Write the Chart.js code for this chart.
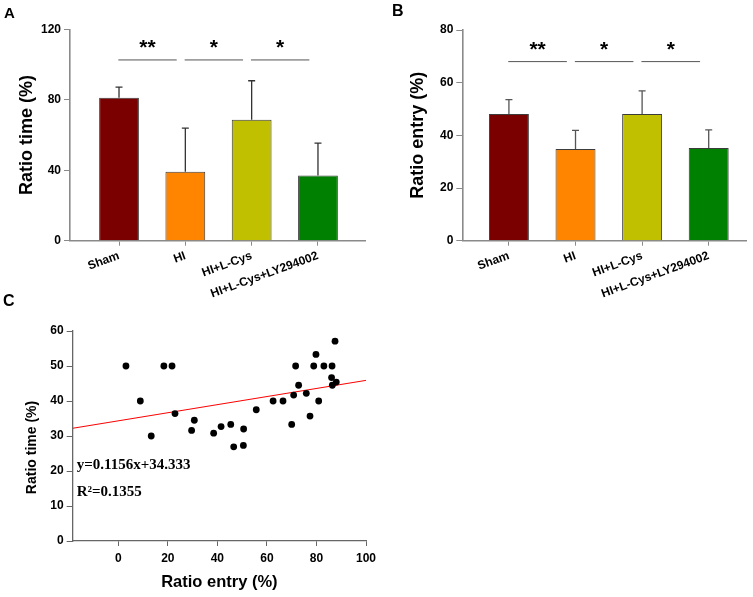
<!DOCTYPE html>
<html><head><meta charset="utf-8">
<script src="https://cdn.jsdelivr.net/npm/chart.js@4.4.1/dist/chart.umd.min.js"></script>
<style>
html,body{margin:0;padding:0;background:#fff;width:753px;height:597px;overflow:hidden;}
.panel{position:absolute;}
.lbl{position:absolute;font-family:"Liberation Sans",Arial,sans-serif;font-weight:bold;color:#000;line-height:1;}
canvas{display:block;}
</style></head><body>
<div class="panel" style="left:0;top:0;"><canvas id="cA" width="380" height="310"></canvas></div>
<div class="panel" style="left:380px;top:0;"><canvas id="cB" width="373" height="310"></canvas></div>
<div class="panel" style="left:0;top:300px;"><canvas id="cC" width="380" height="297"></canvas></div>
<div class="lbl" style="left:4px;top:5px;font-size:15px;">A</div>
<div class="lbl" style="left:392px;top:3px;font-size:16px;">B</div>
<div class="lbl" style="left:3px;top:293px;font-size:16px;">C</div>
<script>
// ---------- data ----------
const categories = ['Sham', 'HI', 'HI+L-Cys', 'HI+L-Cys+LY294002'];
const barColors = ['#7a0000', '#ff8400', '#c0c000', '#008000'];

const ratioTimeMean = [81.2, 39.1, 68.6, 37.0];
const ratioTimeErr  = [87.2, 63.9, 90.8, 55.4];   // top of error bar
const ratioEntryMean = [48.1, 34.8, 48.1, 35.2];
const ratioEntryErr  = [53.6, 41.9, 56.9, 42.1];

const sigLabels = ['**', '*', '*'];
const sigLevelA = 102.6;
const sigLevelB = 68.0;

const yTicksA = [0, 40, 80, 120];
const yTicksB = [0, 20, 40, 60, 80];

const scatterEntry = [3.1, 8.9, 13.3, 18.4, 21.7, 22.9, 29.6, 30.7, 38.5, 41.5, 45.4, 46.6, 50.6, 50.5, 55.7, 62.5, 66.5, 70.0, 70.8, 71.6, 72.8, 75.9, 77.4, 78.9, 79.8, 80.9, 83.0, 86.3, 86.1, 86.4, 88.0, 87.5];
const scatterTime  = [50.0, 40.0, 30.0, 50.0, 50.0, 36.4, 31.6, 34.5, 30.8, 32.7, 33.3, 26.9, 32.0, 27.3, 37.5, 40.0, 40.0, 33.3, 41.7, 50.0, 44.5, 42.2, 35.7, 50.0, 53.3, 40.0, 50.0, 50.0, 46.7, 44.5, 45.4, 57.1];
const fitSlope = 0.1156;
const fitIntercept = 34.333;
const fitLabels = ['y=0.1156x+34.333', 'R\u00b2=0.1355'];
const xTicksC = [0, 20, 40, 60, 80, 100];
const yTicksC = [0, 10, 20, 30, 40, 50, 60];

// ---------- helpers ----------
const SANS = '"Liberation Sans", Arial, sans-serif';
const SERIF = '"Liberation Serif", "Times New Roman", serif';

const errorBarPlugin = {
  id: 'errorBars',
  afterDatasetsDraw(chart, args, opts) {
    const {ctx} = chart;
    const xs = chart.scales.x, ys = chart.scales.y;
    ctx.save();
    ctx.strokeStyle = opts.color;
    ctx.lineWidth = 1.3;
    opts.means.forEach((m, i) => {
      const x = xs.getPixelForValue(i);
      const y0 = ys.getPixelForValue(m);
      const y1 = ys.getPixelForValue(opts.tops[i]);
      ctx.beginPath();
      ctx.moveTo(x, y0); ctx.lineTo(x, y1);
      ctx.moveTo(x - 3.5, y1); ctx.lineTo(x + 3.5, y1);
      ctx.stroke();
    });
    ctx.restore();
  }
};

const sigPlugin = {
  id: 'sig',
  afterDatasetsDraw(chart, args, opts) {
    const {ctx} = chart;
    const xs = chart.scales.x, ys = chart.scales.y;
    const y = ys.getPixelForValue(opts.level);
    ctx.save();
    ctx.strokeStyle = '#555';
    ctx.lineWidth = 1;
    ctx.fillStyle = '#000';
    ctx.font = 'bold 21px ' + SANS;
    ctx.textAlign = 'center';
    ctx.textBaseline = 'alphabetic';
    opts.labels.forEach((lab, i) => {
      const x1 = xs.getPixelForValue(i - 0.01);
      const x2 = xs.getPixelForValue(i + 0.87);
      ctx.beginPath();
      ctx.moveTo(x1, y); ctx.lineTo(x2, y);
      ctx.stroke();
      ctx.fillText(lab, (x1 + x2) / 2, y - 6);
    });
    ctx.restore();
  }
};

const fitTextPlugin = {
  id: 'fitText',
  afterDatasetsDraw(chart, args, opts) {
    const {ctx, chartArea} = chart;
    ctx.save();
    ctx.fillStyle = '#000';
    ctx.font = 'bold 15px ' + SERIF;
    ctx.textAlign = 'left';
    ctx.textBaseline = 'middle';
    ctx.fillText(opts.labels[0], chartArea.left + 4, chartArea.top + 134.5);
    ctx.fillText(opts.labels[1], chartArea.left + 4, chartArea.top + 161);
    // y-axis title (placed slightly below the centre, as in the reference)
    ctx.translate(32, chartArea.top + 116.5);
    ctx.rotate(-Math.PI / 2);
    ctx.textAlign = 'center';
    ctx.font = 'bold 14px ' + SANS;
    ctx.fillText(opts.yTitle, 0, 0);
    ctx.restore();
  }
};

function zeroPad(s) { s.paddingLeft = 0; s.paddingRight = 0; s.paddingTop = 0; s.paddingBottom = 0; }

function barChart(id, means, tops, level, yTicks, yMax, yTitle, xMin, xMax, padTop, padRight, yWidth, titlePad, axisColor, errColor) {
  return new Chart(document.getElementById(id), {
    type: 'bar',
    data: {
      datasets: [{
        data: categories.map((c, i) => ({x: i, y: means[i]})),
        backgroundColor: barColors,
        borderColor: '#3c3c3c',
        borderWidth: 1,
        barPercentage: 0.6,
        categoryPercentage: 1.0
      }]
    },
    options: {
      responsive: false,
      animation: false,
      devicePixelRatio: 1,
      layout: {padding: {left: 0, top: padTop, right: padRight, bottom: 0}},
      plugins: {
        legend: {display: false},
        tooltip: {enabled: false},
        errorBars: {means: means, tops: tops, color: errColor},
        sig: {labels: sigLabels, level: level}
      },
      scales: {
        x: {
          type: 'linear',
          offset: false,
          min: xMin, max: xMax,
          afterBuildTicks(s) { s.ticks = categories.map((c, i) => ({value: i})); },
          afterFit(s) { s.height = 69.3; zeroPad(s); },
          ticks: {
            autoSkip: false, minRotation: 20, maxRotation: 20,
            color: '#000', padding: 3,
            font: {family: SANS, size: 12, weight: 'bold'},
            callback: (v) => categories[v]
          },
          grid: {offset: false, drawOnChartArea: false, drawTicks: true, tickLength: 5, color: axisColor, lineWidth: 1},
          border: {display: true, color: axisColor, width: 1.6}
        },
        y: {
          min: 0, max: yMax,
          afterBuildTicks(s) { s.ticks = yTicks.map(v => ({value: v})); },
          afterFit(s) { s.width = yWidth; zeroPad(s); },
          ticks: {color: '#000', padding: 3, font: {family: SANS, size: 12, weight: 'bold'}},
          grid: {drawOnChartArea: false, drawTicks: true, tickLength: 6, color: axisColor, lineWidth: 1},
          border: {display: true, color: axisColor, width: 1.6},
          title: {display: true, text: yTitle, color: '#000', padding: {top: titlePad, bottom: 0},
                  font: {family: SANS, size: 18, weight: 'bold'}}
        }
      }
    },
    plugins: [errorBarPlugin, sigPlugin]
  });
}

barChart('cA', ratioTimeMean, ratioTimeErr, sigLevelA, yTicksA, 120, 'Ratio time (%)',
         -0.739, 3.709, 29.3, 15, 70, 16.2, '#8a8a8a', '#333');
barChart('cB', ratioEntryMean, ratioEntryErr, sigLevelB, yTicksB, 80, 'Ratio entry (%)',
         -0.70, 3.56, 30, 7, 82.3, 27.2, '#8a8a8a', '#555');

// ---------- panel C ----------
const xMinC = -18.4, xMaxC = 100;
new Chart(document.getElementById('cC'), {
  type: 'scatter',
  data: {
    datasets: [
      {
        data: scatterEntry.map((x, i) => ({x: x, y: scatterTime[i]})),
        backgroundColor: '#000', borderColor: '#000',
        pointRadius: 3.4, pointBorderWidth: 0, showLine: false
      },
      {
        type: 'line',
        data: [xMinC, xMaxC].map(x => ({x: x, y: fitSlope * x + fitIntercept})),
        borderColor: '#ff0000', borderWidth: 1, pointRadius: 0, fill: false
      }
    ]
  },
  options: {
    responsive: false,
    animation: false,
    devicePixelRatio: 1,
    layout: {padding: {left: 0, top: 31, right: 14, bottom: 0}},
    plugins: {
      legend: {display: false},
      tooltip: {enabled: false},
      fitText: {labels: fitLabels, yTitle: 'Ratio time (%)'}
    },
    scales: {
      x: {
        type: 'linear', min: xMinC, max: xMaxC,
        afterBuildTicks(s) { s.ticks = xTicksC.map(v => ({value: v})); },
        afterFit(s) { s.height = 56; zeroPad(s); },
        ticks: {color: '#000', padding: 5, font: {family: SANS, size: 12, weight: 'bold'}},
        grid: {drawOnChartArea: false, drawTicks: true, tickLength: 5, color: '#666', lineWidth: 1},
        border: {display: true, color: '#666', width: 1.3},
        title: {display: true, text: 'Ratio entry (%)', color: '#000', padding: {top: 0, bottom: 4.5},
                font: {family: SANS, size: 16.5, weight: 'bold'}}
      },
      y: {
        min: 0, max: 60,
        afterBuildTicks(s) { s.ticks = yTicksC.map(v => ({value: v})); },
        afterFit(s) { s.width = 72.7; zeroPad(s); },
        ticks: {color: '#000', padding: 3, font: {family: SANS, size: 12, weight: 'bold'}},
        grid: {drawOnChartArea: false, drawTicks: true, tickLength: 6, color: '#666', lineWidth: 1},
        border: {display: true, color: '#666', width: 1.3}
      }
    }
  },
  plugins: [fitTextPlugin]
});
</script>
</body></html>
